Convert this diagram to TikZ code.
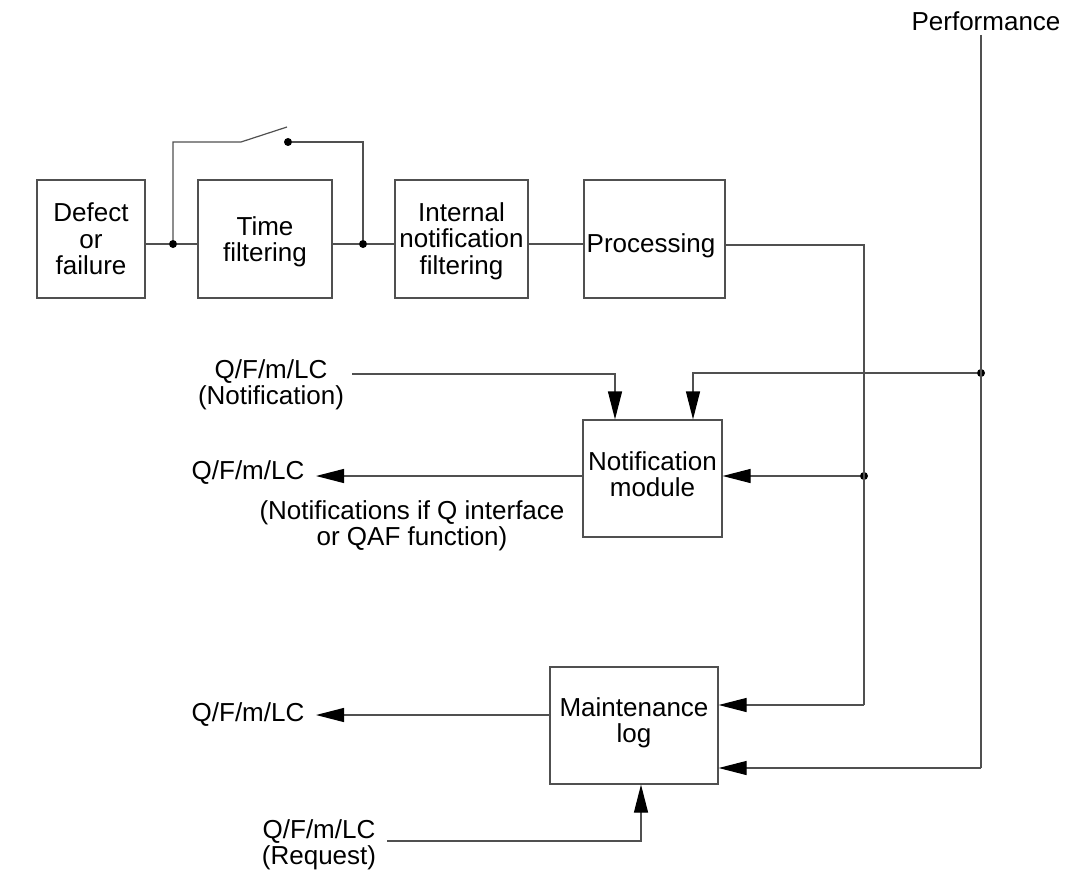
\documentclass[tikz,border=0pt]{standalone}
\usepackage{fontspec}
\setmainfont{Liberation Sans}
\usetikzlibrary{arrows.meta}
\definecolor{linec}{HTML}{505050}
\begin{document}
\begin{tikzpicture}[x=1pt,y=-1pt,
  every node/.style={font=\fontsize{26}{26.5}\selectfont, inner sep=0pt},
  blk/.style={draw=linec, line width=1.2pt, minimum width=#1},
  lab/.style={align=center},
  wire/.style={draw=linec, line width=1.2pt},
  arr/.style={wire, -{Triangle[length=28pt,width=14pt,fill=black,color=black]}},
  jdot/.style={circle, fill=black, minimum size=8pt, inner sep=0pt}]
\useasboundingbox (0,0) rectangle (1068,872);
% blocks
\node[blk=108pt, minimum height=118pt] (def) at (91,239) {};
\node[blk=134pt, minimum height=118pt] (tf) at (265,239) {};
\node[blk=133pt, minimum height=118pt] (inf) at (461.5,239) {};
\node[blk=141pt, minimum height=118pt] (proc) at (654.5,239) {};
\node[blk=139pt, minimum height=117pt] (nm) at (652.5,478.5) {};
\node[blk=168pt, minimum height=117pt] (ml) at (634,725.5) {};
% block texts
\node[lab] (deft) at (91,239) {Defect\\or\\failure};
\node[lab] (tft) at (265,242) {Time\\filtering};
\node[lab] (inft) at (461.5,241) {Internal\\notification\\filtering};
\node[lab] (proct) at (651,246) {Processing};
\node[lab] (nmt) at (652.5,474) {Notification\\module};
\node[lab] (mlt) at (634,723) {Maintenance\\log};
% labels
\node[lab] (perf) at (986,21) {Performance};
\node[lab] (qin) at (271,385) {Q/F/m/LC\\(Notification)};
\node[lab] (qout) at (248,473) {Q/F/m/LC};
\node[lab] (qnote) at (412,526) {(Notifications if Q interface\\or QAF function)};
\node[lab] (qml) at (248,715) {Q/F/m/LC};
\node[lab] (qreq) at (319,845) {Q/F/m/LC\\(Request)};
% junctions
\node[jdot] (j1) at (173,244) {};
\node[jdot] (j2) at (363,244) {};
\node[jdot] (sd) at (288,142) {};
\node[jdot] (j3) at (864,476) {};
\node[jdot] (j4) at (981,373) {};
\coordinate (s1) at (241,142);
\coordinate (s2) at (287,127);
\coordinate (pc) at (864,245);
\coordinate (pt) at (981,35);
\coordinate (pb) at (981,768);
\coordinate (ml1) at (864,705);
\coordinate (nin) at (352,374);
\coordinate (nin2) at (615,374);
\coordinate (pn) at (693,373);
\coordinate (qo) at (316,476);
\coordinate (qm) at (316,715);
\coordinate (rq) at (387,841);
\coordinate (rq2) at (641,841);
% main chain
\draw[wire] (def.east |- j1) -- (j1) -- (tf.west |- j1);
\draw[wire] (tf.east |- j2) -- (j2) -- (inf.west |- j2);
\draw[wire] (inf.east |- j2) -- (proc.west |- j2);
% bypass switch
\draw[wire] (j1) -- (j1 |- s1) -- (s1) -- (s2);
\draw[wire] (sd) -- (j2 |- sd) -- (j2);
% processing outputs
\draw[wire] (proc.east |- pc) -- (pc) -- (ml1);
\draw[arr] (ml1) -- (ml.east |- ml1);
\draw[arr] (j3) -- (nm.east |- j3);
% performance
\draw[wire] (pt) -- (pb);
\draw[arr] (pb) -- (ml.east |- pb);
\draw[arr] (j4) -- (pn) -- (pn |- nm.north);
% notification input
\draw[arr] (nin) -- (nin2) -- (nin2 |- nm.north);
% outputs
\draw[arr] (nm.west |- qo) -- (qo);
\draw[arr] (ml.west |- qm) -- (qm);
% request
\draw[arr] (rq) -- (rq2) -- (rq2 |- ml.south);
\end{tikzpicture}
\end{document}
